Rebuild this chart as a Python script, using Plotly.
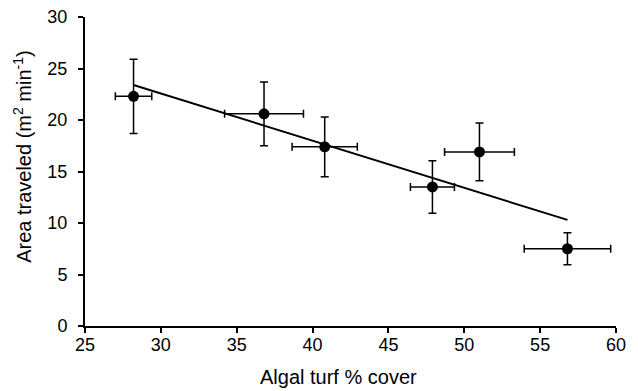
import plotly.graph_objects as go

# Data
cover = [28.2, 36.8, 40.8, 47.9, 51.0, 56.8]
cover_err = [1.2, 2.6, 2.15, 1.45, 2.3, 2.85]
area = [22.3, 20.6, 17.4, 13.5, 16.9, 7.5]
area_err = [3.6, 3.1, 2.9, 2.55, 2.8, 1.55]
trend_x = [28.2, 56.8]
trend_y = [23.4, 10.3]

x_ticks = [25, 30, 35, 40, 45, 50, 55, 60]
y_ticks = [0, 5, 10, 15, 20, 25, 30]

FONT = "Liberation Sans, Arial, sans-serif"

fig = go.Figure()

fig.add_trace(go.Scatter(
    x=trend_x, y=trend_y, mode="lines",
    line=dict(color="black", width=2),
    showlegend=False, hoverinfo="skip",
))

fig.add_trace(go.Scatter(
    x=cover, y=area, mode="markers",
    marker=dict(color="black", size=11, symbol="circle"),
    error_x=dict(type="data", array=cover_err, visible=True,
                 color="black", thickness=1.5, width=4),
    error_y=dict(type="data", array=area_err, visible=True,
                 color="black", thickness=1.5, width=4),
    showlegend=False,
))

axis_common = dict(
    showgrid=False, zeroline=False, showline=True,
    linecolor="black", linewidth=2,
    ticks="outside", ticklen=5, tickwidth=1.5, tickcolor="black",
    tickfont=dict(family=FONT, size=18, color="black"),
    ticklabeloverflow="allow", automargin=False,
)

fig.update_xaxes(range=[25, 60], tickvals=x_ticks, ticklabelstandoff=-4,
                 **axis_common)
fig.update_yaxes(range=[0, 30], tickvals=y_ticks, ticklabelstandoff=7,
                 **axis_common)

fig.add_annotation(
    text="Area traveled (m<sup>2</sup> min<sup>-1</sup>)",
    xref="paper", yref="paper", x=-0.119, y=0.55,
    xanchor="center", yanchor="middle", textangle=-90,
    showarrow=False, font=dict(family=FONT, size=20, color="black"),
)
fig.add_annotation(
    text="Algal turf % cover",
    xref="paper", yref="paper", x=0.478, y=-0.165,
    xanchor="center", yanchor="middle",
    showarrow=False, font=dict(family=FONT, size=20, color="black"),
)

# page body has an 8px default margin; compensate so the plot area
# lands where it sits in the reference
fig.update_layout(
    width=630, height=383,
    margin=dict(l=77, r=22, t=9, b=65, autoexpand=False),
    paper_bgcolor="white", plot_bgcolor="white",
    font=dict(family=FONT, color="black"),
)

fig.write_html("out.html")
